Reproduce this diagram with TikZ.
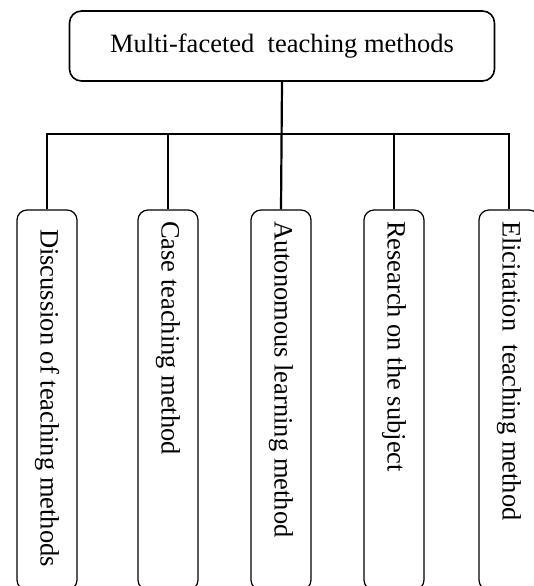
\documentclass[tikz,border=0pt]{standalone}
\usepackage{fontspec}
\setmainfont{Liberation Serif}
\usepackage{tikz}

\begin{document}
\begin{tikzpicture}[
    x=1pt, y=1pt,
    root/.style={rectangle, draw, rounded corners=12pt, minimum width=425pt, minimum height=70pt, align=center, font=\fontsize{26.5}{30}\selectfont, line width=1.6pt},
    leaf/.style={rectangle, draw, rounded corners=10pt, rotate=-90, minimum width=380pt, minimum height=60pt, inner xsep=11pt, text width=358pt, align=flush left, font=\fontsize{26.5}{30}\selectfont, line width=1.2pt},
    link/.style={line width=2.2pt}
]
\useasboundingbox (0,0) rectangle (534,-586);

% Top node
\node[root] (methods) at (282,-46) {Multi-faceted\ \ teaching methods};

% Branches
\node[leaf] (discuss) at (47,-400) {\hspace*{8pt}Discussion of teaching methods};
\node[leaf] (case) at (168,-400) {Case teaching method};
\node[leaf] (autonomous) at (281,-400) {Autonomous learning method};
\node[leaf] (research) at (394,-400) {Research on the subject};
\node[leaf] (elicit) at (509,-400) {Elicitation\ \ teaching method};

% Connectors
\coordinate (bus) at (281,-134);
\draw[link] (methods.south) -- (autonomous.west);
\draw[link] (discuss.west) |- (bus) -| (elicit.west);
\foreach \n in {case,research}
    \draw[link] (\n.west) -- (\n.west |- bus);

\end{tikzpicture}
\end{document}
